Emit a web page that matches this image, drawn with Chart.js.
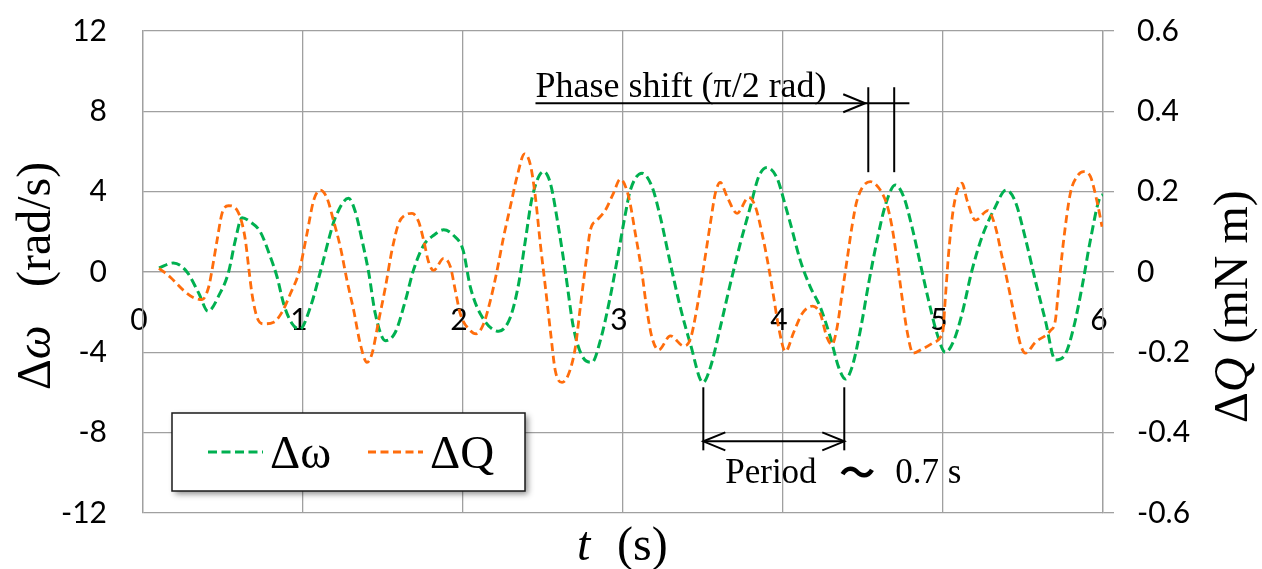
<!DOCTYPE html>
<html>
<head>
<meta charset="utf-8">
<script src="https://cdn.jsdelivr.net/npm/chart.js@4.4.1/dist/chart.umd.min.js"></script>
<style>
  html, body { margin: 0; padding: 0; background: #fff; }
  #wrap { width: 1262px; height: 569px; position: relative; }
</style>
</head>
<body>
<div id="wrap"><canvas id="c" width="1262" height="569"></canvas></div>
<script>
// Angular velocity deviation Δω (rad/s) over time t (s)
const omegaTime = [0.10, 0.19, 0.275, 0.35, 0.406, 0.48, 0.535, 0.577, 0.619, 0.67, 0.733, 0.796, 0.838, 0.879, 0.93, 0.98,
  1.046, 1.108, 1.171, 1.20, 1.285, 1.327, 1.369, 1.41, 1.452, 1.515, 1.577, 1.64, 1.69, 1.754, 1.817, 1.879, 1.94,
  2.0, 2.046, 2.108, 2.223, 2.296, 2.348, 2.39, 2.431, 2.504, 2.546, 2.598, 2.64, 2.69, 2.744, 2.806, 2.858, 2.92, 2.963,
  3.015, 3.046, 3.119, 3.181, 3.233, 3.296, 3.358, 3.421, 3.50, 3.546, 3.608, 3.671, 3.733, 3.796, 3.848, 3.90, 3.963,
  4.015, 4.046, 4.108, 4.171, 4.233, 4.296, 4.348, 4.39, 4.431, 4.483, 4.535, 4.588, 4.64, 4.702, 4.754, 4.806, 4.858, 4.91, 4.963,
  5.015, 5.067, 5.119, 5.181, 5.244, 5.317, 5.396, 5.452, 5.515, 5.577, 5.64, 5.702, 5.765, 5.817, 5.869, 5.921, 5.983, 6.0];
const omegaValues = [0.20, 0.45, 0.0, -1.08, -1.95, -1.08, 0.0, 1.58, 2.70, 2.50, 2.0, 0.75, -0.25, -1.58, -2.55, -2.85,
  -1.75, 0.0, 1.92, 2.67, 3.67, 3.0, 1.58, 0.0, -2.08, -3.42, -3.0, -1.42, 0.08, 1.33, 1.83, 2.10, 1.83,
  1.1, -0.75, -2.08, -2.95, -2.25, -0.58, 1.58, 3.67, 5.0, 4.42, 2.17, 0.0, -2.75, -4.17, -4.5, -3.42, -1.25, 0.58,
  2.9, 4.08, 4.92, 4.25, 2.75, 0.42, -1.75, -3.58, -5.5, -4.75, -2.75, -0.58, 1.42, 3.25, 4.75, 5.2, 4.67,
  3.3, 2.42, 0.58, -0.75, -1.75, -3.25, -4.75, -5.33, -4.75, -2.92, -0.58, 1.58, 3.33, 4.33, 3.75, 2.25, 0.42, -1.42, -3.08,
  -4.0, -3.42, -2.08, 0.08, 1.75, 3.08, 4.08, 3.5, 1.67, -0.42, -2.42, -4.38, -4.08, -2.75, -0.75, 1.58, 3.75, 3.85];

// Torque deviation ΔQ (mN m) over time t (s)
const torqueTime = [0.10, 0.171, 0.254, 0.317, 0.369, 0.41, 0.431, 0.463, 0.494, 0.535, 0.588, 0.619, 0.64, 0.66, 0.681, 0.713, 0.754, 0.817, 0.869, 0.921, 0.975,
  1.025, 1.067, 1.108, 1.15, 1.19, 1.233, 1.275, 1.317, 1.358, 1.40, 1.431, 1.473, 1.515, 1.556, 1.598, 1.64, 1.681, 1.723, 1.754, 1.785, 1.817, 1.879, 1.921, 1.952, 1.983,
  2.046, 2.083, 2.129, 2.171, 2.213, 2.254, 2.296, 2.338, 2.385, 2.421, 2.452, 2.483, 2.515, 2.546, 2.577, 2.619, 2.66, 2.702, 2.733, 2.765, 2.796, 2.838, 2.89, 2.94, 2.983,
  3.035, 3.077, 3.119, 3.15, 3.181, 3.223, 3.296, 3.379, 3.421, 3.463, 3.504, 3.546, 3.577, 3.608, 3.65, 3.713, 3.785, 3.827, 3.869, 3.91, 3.942, 3.973,
  4.015, 4.067, 4.119, 4.185, 4.233, 4.275, 4.306, 4.338, 4.369, 4.40, 4.431, 4.463, 4.546, 4.608, 4.65, 4.681, 4.713, 4.744, 4.775, 4.813, 4.869, 4.931, 4.983,
  5.0, 5.015, 5.035, 5.067, 5.119, 5.15, 5.202, 5.281, 5.327, 5.369, 5.41, 5.452, 5.483, 5.515, 5.577, 5.671, 5.702, 5.723, 5.754, 5.796, 5.838, 5.879, 5.921, 5.963, 5.994];
const torqueValues = [0.009, -0.013, -0.046, -0.064, -0.069, -0.038, 0.004, 0.079, 0.146, 0.165, 0.154, 0.121, 0.079, 0.013, -0.054, -0.113, -0.129, -0.125, -0.100, -0.054, 0.000,
  0.096, 0.179, 0.204, 0.184, 0.129, 0.063, -0.021, -0.096, -0.179, -0.225, -0.204, -0.121, -0.038, 0.054, 0.121, 0.142, 0.146, 0.125, 0.079, 0.025, 0.004, 0.034, 0.013, -0.046, -0.104,
  -0.146, -0.154, -0.129, -0.071, 0.004, 0.088, 0.163, 0.238, 0.294, 0.267, 0.188, 0.071, -0.038, -0.146, -0.246, -0.275, -0.254, -0.188, -0.088, 0.013, 0.104, 0.129, 0.154, 0.196, 0.231,
  0.188, 0.096, -0.004, -0.096, -0.163, -0.194, -0.159, -0.184, -0.167, -0.088, 0.013, 0.121, 0.196, 0.223, 0.188, 0.146, 0.186, 0.163, 0.096, 0.013, -0.063, -0.138,
  -0.198, -0.150, -0.104, -0.085, -0.104, -0.163, -0.181, -0.138, -0.054, 0.029, 0.113, 0.179, 0.225, 0.204, 0.167, 0.113, 0.029, -0.063, -0.146, -0.202, -0.192, -0.178, -0.163,
  -0.145, -0.063, 0.046, 0.163, 0.221, 0.179, 0.129, 0.153, 0.113, 0.038, -0.038, -0.121, -0.179, -0.202, -0.175, -0.146, -0.121, -0.038, 0.079, 0.196, 0.238, 0.250, 0.238, 0.175, 0.113];

// Axis ticks
const timeTicks = [0, 1, 2, 3, 4, 5, 6];
const omegaTicks = [-12, -8, -4, 0, 4, 8, 12];
const torqueTicks = [-0.6, -0.4, -0.2, 0, 0.2, 0.4, 0.6];
const torqueTickLabels = ['-0.6', '-0.4', '-0.2', '0', '0.2', '0.4', '0.6'];

// Annotation anchors (t in s, Δω in rad/s)
const phasePeaks = [4.533, 4.695];
const periodMinima = [3.502, 4.383];

const GREEN = '#00b050';
const ORANGE = '#ff6d0c';
const GRID = '#a0a0a0';
const SERIF = '"Liberation Serif", "DejaVu Serif", serif';

const omegaPoints = omegaTime.map((t, i) => ({ x: t, y: omegaValues[i] }));
const torquePoints = torqueTime.map((t, i) => ({ x: t, y: torqueValues[i] }));

function arrowHead(ctx, x, y, dir) {
  ctx.beginPath();
  ctx.moveTo(x - dir * 22, y - 9);
  ctx.lineTo(x, y);
  ctx.lineTo(x - dir * 22, y + 9);
  ctx.stroke();
}

// Vertical axes: fixed width, no extra label padding above/below the plot
const fitVertical = width => s => {
  s.width = width;
  s.paddingTop = 0;
  s.paddingBottom = 0;
};

const decorations = {
  id: 'decorations',
  afterDraw(chart) {
    const ctx = chart.ctx;
    const xs = chart.scales.x, ys = chart.scales.yW;
    const ca = chart.chartArea;
    const px = t => xs.getPixelForValue(t);
    const py = v => ys.getPixelForValue(v);
    ctx.save();
    ctx.fillStyle = '#000';
    ctx.strokeStyle = '#000';
    ctx.textBaseline = 'alphabetic';
    ctx.textAlign = 'left';

    // Left axis title: Δω  (rad/s)
    ctx.save();
    ctx.translate(50, 390);
    ctx.rotate(-Math.PI / 2);
    let u = 0;
    ctx.font = '48px ' + SERIF;
    ctx.fillText('Δ', u, 0); u += ctx.measureText('Δ').width;
    ctx.font = 'italic 48px ' + SERIF;
    ctx.fillText('ω', u, 0);
    ctx.font = '48px ' + SERIF;
    ctx.fillText('(rad/s)', 103, 0);
    ctx.restore();

    // Right axis title: ΔQ (mN m)
    ctx.save();
    ctx.translate(1247, 423);
    ctx.rotate(-Math.PI / 2);
    u = 0;
    ctx.font = '48px ' + SERIF;
    ctx.fillText('Δ', u, 0); u += ctx.measureText('Δ').width;
    ctx.font = 'italic 48px ' + SERIF;
    ctx.fillText('Q', u, 0); u += ctx.measureText('Q').width;
    ctx.font = '48px ' + SERIF;
    ctx.fillText('(mN m)', u + 14, 0);
    ctx.restore();

    // Bottom axis title: t  (s)
    ctx.font = 'italic 48px ' + SERIF;
    ctx.fillText('t', 577, 560);
    ctx.font = '48px ' + SERIF;
    ctx.fillText('(s)', 617, 560);

    // Phase shift marker
    ctx.lineWidth = 2;
    const yArrow = py(8.4);
    ctx.beginPath();
    ctx.moveTo(px(2.453), yArrow);
    ctx.lineTo(px(4.79), yArrow);
    ctx.stroke();
    arrowHead(ctx, px(4.514), yArrow, 1);
    phasePeaks.forEach(t => {
      ctx.beginPath();
      ctx.moveTo(px(t), py(9.2));
      ctx.lineTo(px(t), py(4.97));
      ctx.stroke();
    });
    ctx.font = '36px ' + SERIF;
    ctx.fillText('Phase shift (π/2 rad)', px(2.453), py(8.72));

    // Period marker
    periodMinima.forEach(t => {
      ctx.beginPath();
      ctx.moveTo(px(t), py(-5.74));
      ctx.lineTo(px(t), py(-8.88));
      ctx.stroke();
    });
    const yP = py(-8.43);
    ctx.beginPath();
    ctx.moveTo(px(periodMinima[0]), yP);
    ctx.lineTo(px(periodMinima[1]), yP);
    ctx.stroke();
    arrowHead(ctx, px(periodMinima[0]), yP, -1);
    arrowHead(ctx, px(periodMinima[1]), yP, 1);
    ctx.font = '35px ' + SERIF;
    ctx.fillText('Period', px(3.639), py(-10.52));
    ctx.fillText('0.7 s', px(4.702), py(-10.52));
    ctx.font = 'bold 36px "Noto Sans CJK JP", sans-serif';
    ctx.textAlign = 'center';
    ctx.textBaseline = 'middle';
    ctx.fillText('～', px(4.464), py(-9.97));
    ctx.textAlign = 'left';
    ctx.textBaseline = 'alphabetic';

    // Legend box
    const lx = ca.left + 29, ly = 413, lw = 353, lh = 78;
    ctx.save();
    ctx.shadowColor = 'rgba(0,0,0,0.45)';
    ctx.shadowBlur = 6;
    ctx.shadowOffsetX = 3;
    ctx.shadowOffsetY = 3;
    ctx.fillStyle = '#fff';
    ctx.fillRect(lx, ly, lw, lh);
    ctx.restore();
    ctx.lineWidth = 1.5;
    ctx.strokeStyle = '#1a1a1a';
    ctx.strokeRect(lx, ly, lw, lh);
    const items = [
      { ds: chart.data.datasets[0], x: lx + 36, text: 'Δω' },
      { ds: chart.data.datasets[1], x: lx + 196, text: 'ΔQ' }
    ];
    items.forEach(it => {
      ctx.save();
      ctx.strokeStyle = it.ds.borderColor;
      ctx.lineWidth = it.ds.borderWidth;
      ctx.setLineDash(it.ds.borderDash);
      ctx.beginPath();
      ctx.moveTo(it.x, ly + 39);
      ctx.lineTo(it.x + 55, ly + 39);
      ctx.stroke();
      ctx.restore();
      ctx.font = '47px ' + SERIF;
      ctx.fillStyle = '#000';
      ctx.fillText(it.text, it.x + 62, ly + 55);
    });
    ctx.restore();
  }
};

new Chart(document.getElementById('c'), {
  type: 'line',
  data: {
    datasets: [
      {
        label: 'Δω', data: omegaPoints, yAxisID: 'yW', order: 1,
        borderColor: GREEN, borderWidth: 3, borderDash: [9, 4.5],
        pointRadius: 0, fill: false, cubicInterpolationMode: 'monotone'
      },
      {
        label: 'ΔQ', data: torquePoints, yAxisID: 'yQ', order: 0,
        borderColor: ORANGE, borderWidth: 2.8, borderDash: [8, 4.5],
        pointRadius: 0, fill: false, cubicInterpolationMode: 'monotone'
      }
    ]
  },
  options: {
    responsive: false,
    animation: false,
    devicePixelRatio: 1,
    layout: { padding: { left: 0, right: 0, top: 31, bottom: 56 } },
    plugins: { legend: { display: false }, tooltip: { enabled: false } },
    scales: {
      x: {
        type: 'linear', min: 0, max: 6,
        position: { yW: 0 },
        afterBuildTicks: s => { s.ticks = timeTicks.map(v => ({ value: v })); },
        afterFit: s => { s.height = 0; s.paddingLeft = 0; s.paddingRight = 0; },
        ticks: { font: { family: 'Lato', size: 30 }, color: '#000', padding: 30, labelOffset: -4, maxRotation: 0 },
        grid: { color: GRID, lineWidth: 1.3, drawTicks: false },
        border: { color: GRID, width: 1.3 }
      },
      yW: {
        type: 'linear', position: 'left', min: -12, max: 12,
        afterBuildTicks: s => { s.ticks = omegaTicks.map(v => ({ value: v })); },
        afterFit: fitVertical(143),
        ticks: { font: { family: 'Lato', size: 30 }, color: '#000', padding: 36 },
        grid: { color: GRID, lineWidth: 1.3, drawTicks: false },
        border: { color: GRID, width: 1.3 }
      },
      yQ: {
        type: 'linear', position: 'right', min: -0.6, max: 0.6,
        afterBuildTicks: s => { s.ticks = torqueTicks.map(v => ({ value: v })); },
        afterFit: fitVertical(159),
        ticks: {
          font: { family: 'Lato', size: 30 }, color: '#000', padding: 23,
          callback: (v, i) => torqueTickLabels[i]
        },
        grid: { color: GRID, lineWidth: 1.3, drawOnChartArea: false, drawTicks: true, tickLength: 11, tickColor: GRID, tickWidth: 1.3 },
        border: { color: GRID, width: 1.3 }
      }
    }
  },
  plugins: [decorations]
});
</script>
</body>
</html>
